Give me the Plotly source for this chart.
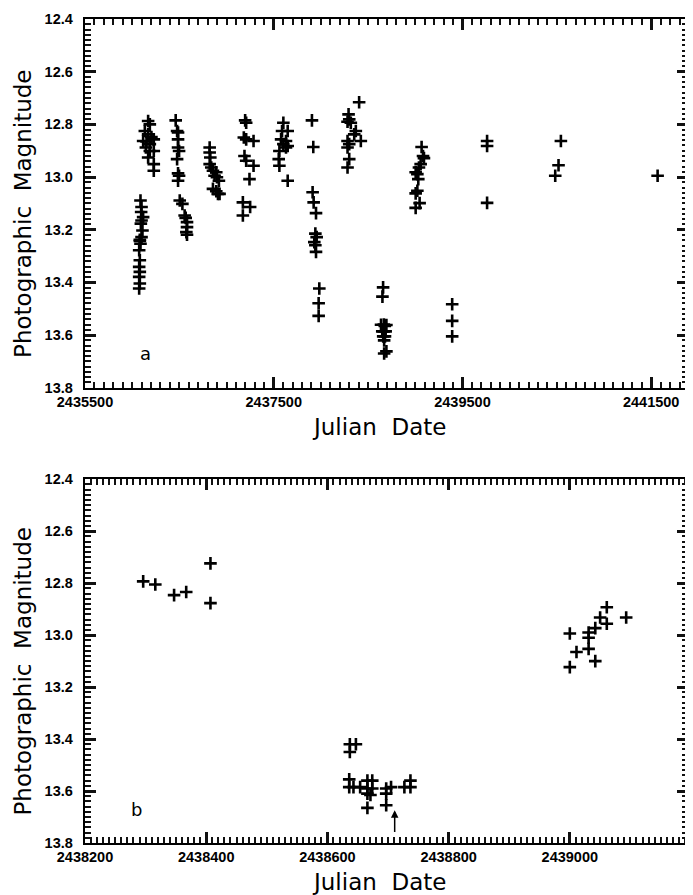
import plotly.graph_objects as go

# ---------------- Panel a: full light curve ----------------
jd_a = [
    # cluster 1 lower column
    2436088, 2436099, 2436116, 2436099, 2436092, 2436109, 2436099, 2436081, 2436088,
    2436074, 2436081, 2436074, 2436081, 2436074, 2436081, 2436074, 2436081, 2436095,
    # cluster 1 upper
    2436169, 2436187, 2436134, 2436169, 2436204, 2436116, 2436152, 2436187, 2436229,
    2436145, 2436187, 2436229, 2436169, 2436229, 2436229,
    # cluster 2
    2436461, 2436476, 2436486, 2436486, 2436486, 2436497, 2436476, 2436486, 2436497,
    2436486, 2436504, 2436532, 2436556, 2436567, 2436581, 2436581, 2436574, 2436581,
    # cluster 3
    2436821, 2436821, 2436828, 2436821, 2436838, 2436856, 2436891, 2436873, 2436898,
    2436919, 2436856, 2436891, 2436909, 2436926,
    # cluster 4
    2437197, 2437208, 2437183, 2437208, 2437286, 2437190, 2437208, 2437286, 2437243,
    2437173, 2437250, 2437173,
    # cluster 5
    2437602, 2437588, 2437648, 2437578, 2437630, 2437602, 2437648, 2437560, 2437630,
    2437553, 2437560, 2437648,
    # cluster 6
    2437905, 2437919, 2437912, 2437923, 2437948, 2437941, 2437955, 2437930, 2437941,
    2437948, 2437983, 2437976, 2437976,
    # cluster 7
    2438405, 2438293, 2438300, 2438282, 2438317, 2438370, 2438353, 2438423, 2438282,
    2438300, 2438282, 2438300, 2438282,
    # cluster 8
    2438659, 2438652, 2438637, 2438667, 2438677, 2438694, 2438650, 2438665, 2438686,
    2438660, 2438679, 2438670, 2438694, 2438670,
    # cluster 9
    2439067, 2439082, 2439092, 2439057, 2439039, 2439004, 2439022, 2439032, 2439022,
    2439004, 2439046, 2439004,
    # clusters 10-13
    2439391, 2439391, 2439391,
    2439761, 2439761, 2439761,
    2440543, 2440518, 2440483,
    2441568,
]
mag_a = [
    13.089, 13.114, 13.152, 13.165, 13.177, 13.203, 13.228, 13.243, 13.253,
    13.278, 13.316, 13.341, 13.360, 13.379, 13.404, 13.423, 13.238, 13.133,
    12.787, 12.800, 12.825, 12.838, 12.848, 12.863, 12.865, 12.875, 12.857,
    12.888, 12.901, 12.901, 12.926, 12.951, 12.976,
    12.785, 12.825, 12.831, 12.857, 12.888, 12.901, 12.932, 12.986, 12.995,
    13.014, 13.089, 13.102, 13.146, 13.155, 13.171, 13.190, 13.209, 13.219,
    12.888, 12.907, 12.926, 12.951, 12.964, 12.976, 12.982, 12.995, 13.001,
    13.014, 13.045, 13.054, 13.064, 13.064,
    12.785, 12.794, 12.850, 12.857, 12.863, 12.920, 12.938, 12.957, 13.008,
    13.096, 13.114, 13.146,
    12.794, 12.825, 12.825, 12.857, 12.863, 12.875, 12.882, 12.901, 12.888,
    12.932, 12.957, 13.014,
    12.785, 12.886, 13.058, 13.096, 13.137, 13.215, 13.228, 13.247, 13.259,
    13.284, 13.423, 13.479, 13.527,
    12.716, 12.762, 12.781, 12.790, 12.794, 12.825, 12.838, 12.863, 12.863,
    12.875, 12.888, 12.932, 12.964,
    13.419, 13.454, 13.561, 13.560, 13.565, 13.562, 13.586, 13.586, 13.586,
    13.605, 13.605, 13.620, 13.662, 13.670,
    12.886, 12.920, 12.928, 12.951, 12.964, 12.982, 12.989, 13.008, 13.052,
    13.062, 13.099, 13.117,
    13.483, 13.546, 13.605,
    12.863, 12.882, 13.098,
    12.863, 12.955, 12.995,
    12.995,
]

# ---------------- Panel b: enlarged section ----------------
jd_b = [
    2438296, 2438316, 2438347, 2438367, 2438407, 2438407,
    2438637, 2438647, 2438637,
    2438636, 2438636, 2438643, 2438654, 2438666, 2438674, 2438666, 2438674,
    2438666, 2438671, 2438666, 2438697, 2438697, 2438705, 2438697,
    2438727, 2438737, 2438737,
    2439000, 2439000, 2439011, 2439031, 2439031, 2439031, 2439042, 2439042,
    2439050, 2439061, 2439061, 2439093,
]
mag_b = [
    12.793, 12.805, 12.846, 12.834, 12.724, 12.877,
    13.42, 13.42, 13.45,
    13.555, 13.585, 13.585, 13.585, 13.56, 13.56, 13.59, 13.59,
    13.61, 13.615, 13.665, 13.59, 13.61, 13.585, 13.655,
    13.585, 13.56, 13.585,
    12.994, 13.123, 13.065, 12.990, 13.010, 13.053, 12.973, 13.100,
    12.932, 12.893, 12.956, 12.932,
]

arrow_jd = 2438711
arrow_mag_from = 13.763
arrow_mag_to = 13.674

W, H = 685, 887          # page body adds an 8 px margin
ML, MR, MT, MB = 77, 3, 6, 52
plot_h = H - MT - MB
top_dom = [(835 - 377) / plot_h, 1.0]
bot_dom = [0.0, (835 - 469) / plot_h]

marker = dict(symbol="cross-thin", size=9, color="black",
              line=dict(width=2.6, color="black"))

fig = go.Figure()
fig.add_trace(go.Scatter(x=jd_a, y=mag_a, mode="markers", marker=marker,
                         xaxis="x", yaxis="y", showlegend=False))
fig.add_trace(go.Scatter(x=jd_b, y=mag_b, mode="markers", marker=marker,
                         xaxis="x2", yaxis="y2", showlegend=False))

tick_font = dict(family="Liberation Sans, Arial, sans-serif", size=14.5,
                 color="black", weight="bold")
title_font = dict(family="DejaVu Sans, sans-serif", size=23, color="black")


def minor(step):
    return dict(dtick=step, ticks="inside", ticklen=6, tickwidth=2,
                tickcolor="#111111")


common = dict(showline=True, linecolor="black", linewidth=2, mirror="allticks",
              ticks="inside", ticklen=11, tickwidth=3, tickcolor="#111111",
              showgrid=False, zeroline=False, tickfont=tick_font)
common_y = dict(**common, tickmode="linear", tick0=12.4, dtick=0.2,
                tickformat=".1f", ticksuffix="\u2002", minor=minor(0.02))

fig.update_layout(
    width=W, height=H,
    margin=dict(l=ML, r=MR, t=MT, b=MB),
    paper_bgcolor="white", plot_bgcolor="white",
    xaxis=dict(**common, domain=[0, 1], anchor="y",
               range=[2435500, 2441890], tickmode="linear", tick0=2435500,
               dtick=2000, tickformat="d", minor=minor(100)),
    yaxis=dict(**common_y, domain=top_dom, anchor="x", range=[13.8, 12.4]),
    xaxis2=dict(**common, domain=[0, 1], anchor="y2",
                range=[2438200, 2439195], tickmode="linear", tick0=2438200,
                dtick=200, tickformat="d", minor=minor(10)),
    yaxis2=dict(**common_y, domain=bot_dom, anchor="x2", range=[13.8, 12.4]),
)

# axis titles
sp = "\u00a0"
for yc in (0.5054, -0.047):
    fig.add_annotation(x=0.488, y=yc, xref="paper", yref="paper",
                       text="Julian" + sp + sp + "Date", showarrow=False,
                       font=title_font, xanchor="center", yanchor="middle")
for ya in ("y", "y2"):
    fig.add_annotation(x=0, y=13.14, xref="paper", yref=ya, xshift=-62,
                       text="Photographic" + sp + sp + "Magnitude", textangle=-90,
                       showarrow=False, font=title_font,
                       xanchor="center", yanchor="middle")

label_font = dict(family="DejaVu Sans, sans-serif", size=18, color="black")
fig.add_annotation(x=2436145, y=13.67, xref="x", yref="y", text="a",
                   showarrow=False, font=label_font)
fig.add_annotation(x=2438285, y=13.67, xref="x2", yref="y2", text="b",
                   showarrow=False, font=label_font)
fig.add_annotation(x=arrow_jd, y=arrow_mag_to, ax=arrow_jd, ay=arrow_mag_from,
                   xref="x2", yref="y2", axref="x2", ayref="y2", text="",
                   showarrow=True, arrowhead=2, arrowsize=1, arrowwidth=1.5,
                   arrowcolor="black")

fig.write_html("out.html")
